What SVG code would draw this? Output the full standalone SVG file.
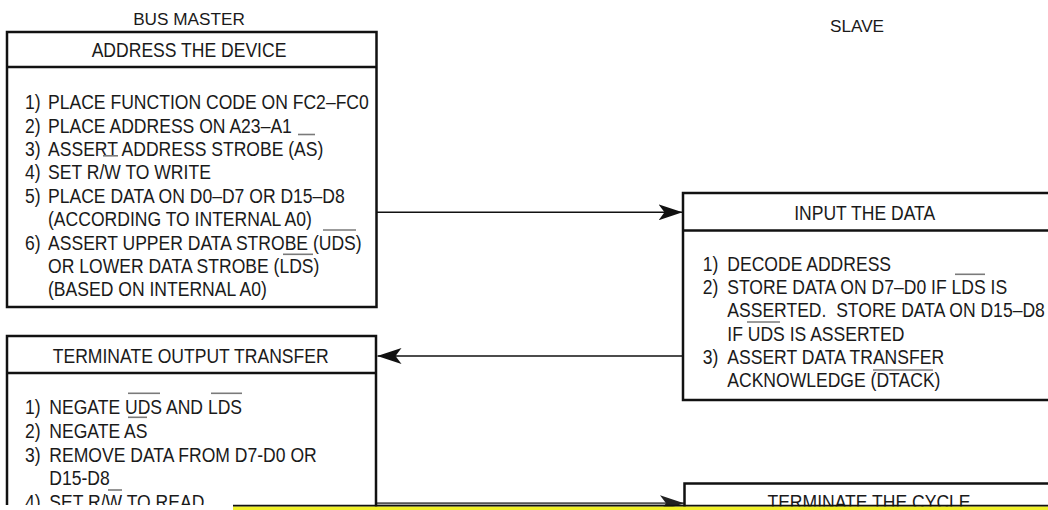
<svg xmlns="http://www.w3.org/2000/svg" width="1048" height="510" viewBox="0 0 1048 510">
<defs>
<style>
.box{fill:#fff;stroke:#111;stroke-width:2.5}
.sep{stroke:#111;stroke-width:2.5}
.t{font-family:"Liberation Sans",Arial,Helvetica,sans-serif;font-size:19.5px;fill:#1a1a1a}
.lbl{font-family:"Liberation Sans",Arial,Helvetica,sans-serif;font-size:17.2px;fill:#1a1a1a;text-anchor:middle}
.mid{text-anchor:middle}
.ol{stroke:#7a7a7a;stroke-width:1.6}
.con{fill:none;stroke:#111;stroke-width:1.6}
</style>
<marker id="ah" viewBox="0 0 24 16" markerUnits="userSpaceOnUse" markerWidth="24" markerHeight="16" refX="24" refY="8" orient="auto">
<path d="M0,0 L24,8 L0,16 L6,8 Z" fill="#111"/>
</marker>
<marker id="ahg" viewBox="0 0 24 16" markerUnits="userSpaceOnUse" markerWidth="24" markerHeight="16" refX="24" refY="8" orient="auto">
<path d="M0,0 L24,8 L0,16 L6,8 Z" fill="#222"/>
</marker>
</defs>
<rect width="1048" height="510" fill="#fff"/>

<text class="lbl" x="189" y="25">BUS MASTER</text>
<text class="lbl" x="857" y="32">SLAVE</text>

<g id="connectors">
<line class="con" x1="377" y1="212.3" x2="682.5" y2="212.3" marker-end="url(#ah)"/>
<line class="con" x1="683" y1="356" x2="377.5" y2="356" marker-end="url(#ah)"/>
<line class="con" x1="377" y1="503.3" x2="684" y2="503.3" style="stroke:#555;stroke-width:2" marker-end="url(#ahg)"/>
</g>

<g id="address-device">
<rect class="box" x="7" y="32" width="369.5" height="275"/>
<line class="sep" x1="7" y1="67" x2="376.5" y2="67"/>
<g transform="translate(189 0) scale(0.9 1)"><text class="t mid" x="0" y="57.3">ADDRESS THE DEVICE</text></g>
<g class="t" transform="translate(25 0) scale(0.9 1)">
<text y="109.3"><tspan x="0">1)</tspan><tspan x="25.6">PLACE FUNCTION CODE ON FC2–FC0</tspan></text>
<text y="132.7"><tspan x="0">2)</tspan><tspan x="25.6">PLACE ADDRESS ON A23–A1</tspan></text>
<text y="156.1"><tspan x="0">3)</tspan><tspan x="25.6">ASSERT ADDRESS STROBE (AS)</tspan></text>
<text y="179.5"><tspan x="0">4)</tspan><tspan x="25.6">SET R/W TO WRITE</tspan></text>
<text y="202.9"><tspan x="0">5)</tspan><tspan x="25.6">PLACE DATA ON D0–D7 OR D15–D8</tspan></text>
<text y="226.3"><tspan x="25.6">(ACCORDING TO INTERNAL A0)</tspan></text>
<text y="249.7"><tspan x="0">6)</tspan><tspan x="25.6">ASSERT UPPER DATA STROBE (UDS)</tspan></text>
<text y="273.1"><tspan x="25.6">OR LOWER DATA STROBE (LDS)</tspan></text>
<text y="296.5"><tspan x="25.6">(BASED ON INTERNAL A0)</tspan></text>
</g>
<line class="ol" x1="298" y1="134.5" x2="315" y2="134.5"/>
<line class="ol" x1="103" y1="155.8" x2="118" y2="155.8"/>
<line class="ol" x1="323" y1="230" x2="356" y2="230"/>
<line class="ol" x1="283" y1="254.3" x2="313" y2="254.3"/>
</g>

<g id="input-data">
<rect class="box" x="683" y="193" width="380" height="207"/>
<line class="sep" x1="683" y1="230.5" x2="1063" y2="230.5"/>
<g transform="translate(864.7 0) scale(0.9 1)"><text class="t mid" x="0" y="220">INPUT THE DATA</text></g>
<g class="t" transform="translate(702.7 0) scale(0.9 1)">
<text y="270.7"><tspan x="0">1)</tspan><tspan x="27.3">DECODE ADDRESS</tspan></text>
<text y="294"><tspan x="0">2)</tspan><tspan x="27.3">STORE DATA ON D7–D0 IF LDS IS</tspan></text>
<text y="317.3"><tspan x="27.3">ASSERTED.&#160; STORE DATA ON D15–D8</tspan></text>
<text y="340.7"><tspan x="27.3">IF UDS IS ASSERTED</tspan></text>
<text y="364"><tspan x="0">3)</tspan><tspan x="27.3">ASSERT DATA TRANSFER</tspan></text>
<text y="387.3"><tspan x="27.3">ACKNOWLEDGE (DTACK)</tspan></text>
</g>
<line class="ol" x1="955" y1="274.3" x2="985" y2="274.3"/>
<line class="ol" x1="747" y1="322" x2="780" y2="322"/>
<line class="ol" x1="873" y1="370" x2="933" y2="370"/>
</g>

<g id="terminate-output">
<rect class="box" x="7" y="336" width="369" height="190"/>
<line class="sep" x1="7" y1="373" x2="376" y2="373"/>
<g transform="translate(190.7 0) scale(0.9 1)"><text class="t mid" x="0" y="363.3">TERMINATE OUTPUT TRANSFER</text></g>
<g class="t" transform="translate(25 0) scale(0.9 1)">
<text y="414"><tspan x="0">1)</tspan><tspan x="27">NEGATE UDS AND LDS</tspan></text>
<text y="438.3"><tspan x="0">2)</tspan><tspan x="27">NEGATE AS</tspan></text>
<text y="461.7"><tspan x="0">3)</tspan><tspan x="27">REMOVE DATA FROM D7-D0 OR</tspan></text>
<text y="485.5"><tspan x="27">D15-D8</tspan></text>
<text y="509"><tspan x="0">4)</tspan><tspan x="27">SET R/W TO READ</tspan></text>
</g>
<line class="ol" x1="128" y1="393.3" x2="160" y2="393.3"/>
<line class="ol" x1="211" y1="393.3" x2="242" y2="393.3"/>
<line class="ol" x1="128" y1="417.3" x2="147" y2="417.3"/>
<line class="ol" x1="108" y1="490" x2="122" y2="490"/>
</g>

<g id="terminate-cycle">
<rect class="box" x="684.5" y="483.5" width="380" height="60"/>
<g transform="translate(869 0) scale(0.9 1)"><text class="t mid" x="0" y="509">TERMINATE THE CYCLE</text></g>
</g>

<rect x="0" y="505" width="233" height="5" fill="#fff"/>
<rect x="233" y="506.3" width="815" height="3.7" fill="#f0f028"/>
<line x1="233" y1="505.6" x2="1048" y2="505.6" stroke="#111" stroke-width="1.6"/>
</svg>
